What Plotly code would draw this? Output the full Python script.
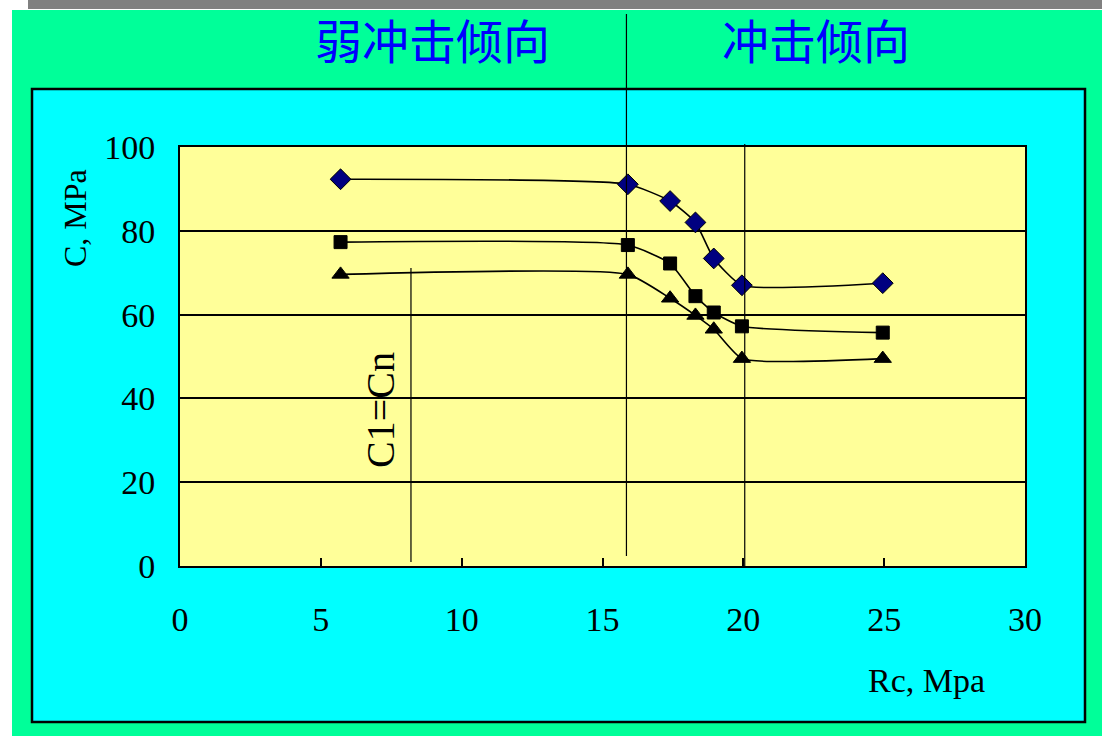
import plotly.graph_objects as go

# Data
rc_values = [5.7, 15.9, 17.4, 18.3, 18.95, 19.95, 24.95]
c_diamond = [92.3, 91.1, 87.1, 82.0, 73.4, 67.0, 67.5]
c_square = [77.3, 76.6, 72.2, 64.4, 60.5, 57.2, 55.7]
c_triangle = [69.6, 69.6, 63.9, 59.8, 56.5, 49.5, 49.5]

x_ticks = [0, 5, 10, 15, 20, 25, 30]
y_ticks = [0, 20, 40, 60, 80, 100]

boundary_x = 15.85   # 弱冲击倾向 / 冲击倾向 boundary
line20_x = 20.05
c1cn_x = 8.2

X_MAX = 30.0
Y_MAX = 100.0

W, H = 1102, 736
L, R, T, B = 180, 77, 147, 170
PW = W - L - R
PH = H - T - B


def px_x(p):
    return (p - L) / PW


def px_y(p):
    return (H - B - p) / PH


serif = "Liberation Serif"
cjk = "Noto Sans CJK SC"

fig = go.Figure()

common_line = dict(color="black", width=1.6, shape="spline", smoothing=0.5)

fig.add_trace(go.Scatter(
    x=rc_values, y=c_diamond, mode="lines+markers",
    line=common_line,
    marker=dict(symbol="diamond", size=16, color="#000080",
                line=dict(color="black", width=1)),
    showlegend=False))
fig.add_trace(go.Scatter(
    x=rc_values, y=c_square, mode="lines+markers",
    line=common_line,
    marker=dict(symbol="square", size=13, color="black",
                line=dict(color="black", width=1)),
    showlegend=False))
fig.add_trace(go.Scatter(
    x=rc_values, y=c_triangle, mode="lines+markers",
    line=common_line,
    marker=dict(symbol="triangle-up", size=15, color="black",
                line=dict(color="black", width=1)),
    showlegend=False))

shapes = [
    # left white strip and top strips
    dict(type="rect", xref="paper", yref="paper",
         x0=px_x(0), x1=px_x(12), y0=px_y(0), y1=px_y(H),
         fillcolor="white", line=dict(width=0), layer="below"),
    dict(type="rect", xref="paper", yref="paper",
         x0=px_x(0), x1=px_x(W), y0=px_y(0), y1=px_y(10),
         fillcolor="white", line=dict(width=0), layer="below"),
    dict(type="rect", xref="paper", yref="paper",
         x0=px_x(28), x1=px_x(W), y0=px_y(0), y1=px_y(9),
         fillcolor="#808080", line=dict(width=0), layer="below"),
    # cyan chart box
    dict(type="rect", xref="paper", yref="paper",
         x0=px_x(32), x1=px_x(1085), y0=px_y(89), y1=px_y(722),
         fillcolor="#00FFFF", line=dict(color="black", width=2.5), layer="below"),
    # yellow plot area
    dict(type="rect", xref="paper", yref="paper",
         x0=0, x1=1, y0=0, y1=1,
         fillcolor="#FFFF99", line=dict(width=0), layer="below"),
    # vertical reference lines
    dict(type="line", xref="paper", yref="paper",
         x0=boundary_x / X_MAX, x1=boundary_x / X_MAX,
         y0=px_y(556), y1=px_y(14),
         line=dict(color="black", width=1.2), layer="above"),
    dict(type="line", xref="paper", yref="paper",
         x0=line20_x / X_MAX, x1=line20_x / X_MAX,
         y0=0, y1=px_y(144),
         line=dict(color="black", width=1.2), layer="above"),
    dict(type="line", xref="paper", yref="paper",
         x0=c1cn_x / X_MAX, x1=c1cn_x / X_MAX,
         y0=px_y(562), y1=px_y(268),
         line=dict(color="black", width=1.2), layer="above"),
]


def ann(text, px, py, size, family, color="black", angle=0):
    return dict(text=text, x=px_x(px), y=px_y(py), xref="paper", yref="paper",
                xanchor="center", yanchor="middle", textangle=angle,
                showarrow=False, font=dict(family=family, size=size, color=color))


annotations = [
    ann("弱冲击倾向", 432, 38, 47, cjk, "#0000FF"),
    ann("冲击倾向", 816, 38, 47, cjk, "#0000FF"),
    ann("C, MPa", 75, 218, 32, serif, angle=-90),
    ann("Rc, Mpa", 926, 680, 34, serif),
    ann("C1=Cn", 380, 410, 40, serif, angle=-90),
]

fig.update_layout(
    width=W, height=H,
    margin=dict(l=L, r=R, t=T, b=B, pad=0),
    paper_bgcolor="#00FF99",
    plot_bgcolor="rgba(0,0,0,0)",
    shapes=shapes,
    annotations=annotations,
    font=dict(family=serif, color="black"),
    xaxis=dict(range=[0, X_MAX], tickvals=x_ticks,
               ticktext=[str(v) for v in x_ticks],
               showgrid=False, zeroline=False,
               showline=True, linecolor="black", linewidth=2, mirror=True,
               ticks="inside", ticklen=8, tickwidth=2, tickcolor="black",
               ticklabelstandoff=22,
               tickfont=dict(family=serif, size=34, color="black")),
    yaxis=dict(range=[0, Y_MAX], tickvals=y_ticks,
               ticktext=[str(v) for v in y_ticks],
               showgrid=True, gridcolor="black", gridwidth=1.5,
               zeroline=False,
               showline=True, linecolor="black", linewidth=2, mirror=True,
               ticks="", ticklabelstandoff=16,
               tickfont=dict(family=serif, size=34, color="black")),
)

fig.write_html("out.html", config={"displayModeBar": False},
               post_script="document.body.style.margin='0';")
